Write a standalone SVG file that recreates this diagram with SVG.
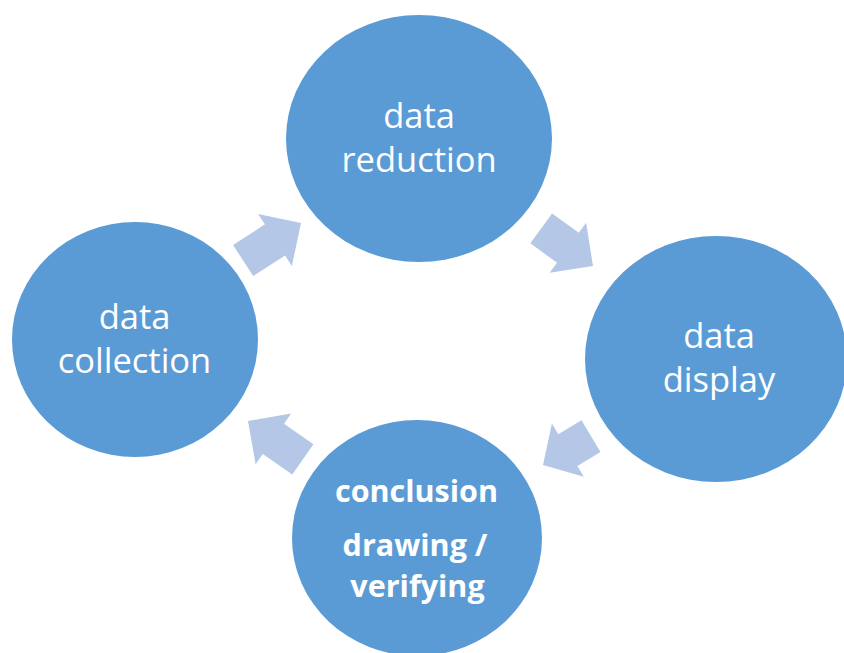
<svg xmlns="http://www.w3.org/2000/svg" width="844" height="653" viewBox="0 0 844 653">
<style>
.node{fill:#5B9BD5;}
.arr{fill:#B4C7E7;}
.t{fill:#FFFFFF;font-family:"Open Sans","Liberation Sans",sans-serif;font-size:34.5px;text-anchor:middle;}
.b{fill:#FFFFFF;font-family:"Open Sans","Liberation Sans",sans-serif;font-size:30.5px;font-weight:bold;text-anchor:middle;}
</style>
<rect width="844" height="653" fill="#FFFFFF"/>
<g id="connectors">
<polygon class="arr" transform="translate(301,223) rotate(-33)" points="0,0 -31,-31 -31,-18.5 -69,-18.5 -69,18.5 -31,18.5 -31,31"/>
<polygon class="arr" transform="translate(593,266) rotate(36)" points="0,0 -31,-31 -31,-18.5 -64,-18.5 -64,18.5 -31,18.5 -31,31"/>
<polygon class="arr" transform="translate(543,465) rotate(149)" points="0,0 -29,-31 -29,-18.5 -56,-18.5 -56,18.5 -29,18.5 -29,31"/>
<polygon class="arr" transform="translate(248,421) rotate(215)" points="0,0 -31,-31 -31,-18.5 -67,-18.5 -67,18.5 -31,18.5 -31,31"/>
</g>
<g id="data-reduction">
<ellipse class="node" cx="419" cy="138.5" rx="133" ry="123.5"/>
<text class="t" x="419" y="128">data</text>
<text class="t" x="419" y="172">reduction</text>
</g>
<g id="data-collection">
<ellipse class="node" cx="135" cy="339.5" rx="123" ry="117.5"/>
<text class="t" x="134.5" y="329">data</text>
<text class="t" x="134.5" y="373">collection</text>
</g>
<g id="data-display">
<ellipse class="node" cx="716" cy="359" rx="131" ry="123"/>
<text class="t" x="719" y="348">data</text>
<text class="t" x="719" y="392">display</text>
</g>
<g id="conclusion">
<ellipse class="node" cx="417" cy="538" rx="125" ry="118"/>
<text class="b" x="416.5" y="502">conclusion</text>
<text class="b" x="415" y="556">drawing /</text>
<text class="b" x="417.5" y="597">verifying</text>
</g>
</svg>
